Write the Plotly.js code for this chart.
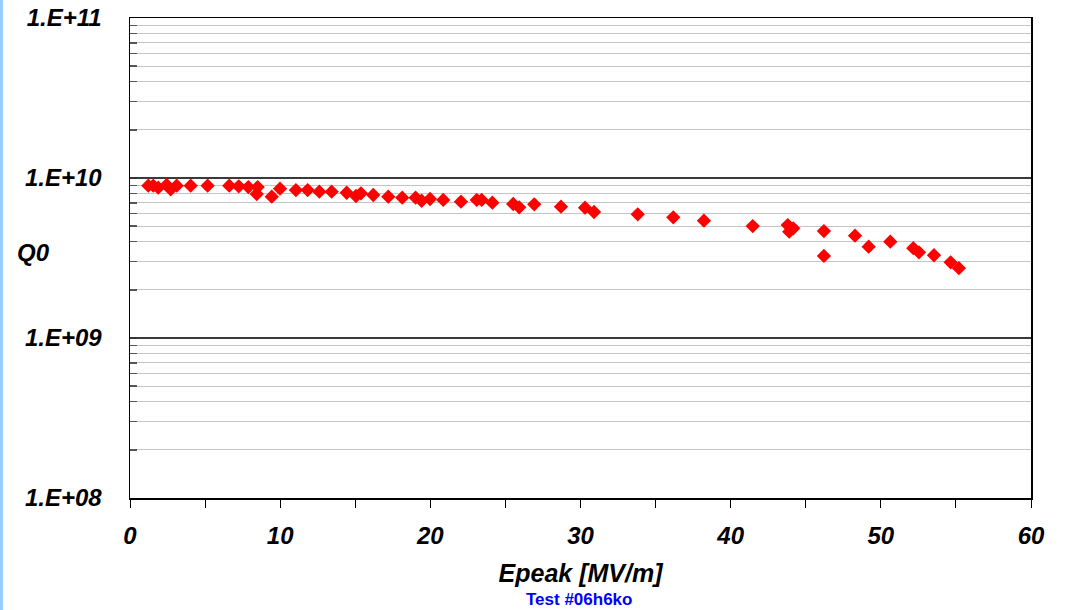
<!DOCTYPE html>
<html>
<head>
<meta charset="utf-8">
<script src="https://cdn.plot.ly/plotly-3.0.1.min.js"></script>
<style>
html,body{margin:0;padding:0;background:#fff;overflow:hidden;}
#chart{width:1067px;height:610px;}
#bar{position:absolute;left:0;top:0;width:3px;height:610px;background:#99ccff;}
</style>
</head>
<body>
<div id="chart"></div>
<div id="bar"></div>
<script>
// Epeak [MV/m]
const epeak = [1.22,1.55,1.88,2.44,2.71,3.11,4.04,5.17,6.61,7.24,7.88,8.50,8.44,9.44,9.99,
  11.05,11.83,12.61,13.43,14.43,15.05,15.38,16.20,17.20,18.13,19.02,19.42,19.98,20.86,
  22.04,23.09,23.42,24.13,25.52,25.92,26.92,28.70,30.30,30.90,33.81,36.18,38.22,41.47,
  43.80,44.17,43.90,46.21,46.21,48.28,49.19,50.63,52.16,52.54,53.54,54.65,55.20];
// Q0
const q0 = [8.95e9,8.95e9,8.70e9,9.04e9,8.50e9,8.95e9,8.95e9,8.95e9,8.95e9,8.87e9,8.78e9,8.78e9,7.94e9,7.64e9,8.57e9,
  8.41e9,8.41e9,8.21e9,8.21e9,8.09e9,7.72e9,8.02e9,7.83e9,7.64e9,7.53e9,7.53e9,7.21e9,7.39e9,7.29e9,
  7.11e9,7.29e9,7.29e9,7.01e9,6.88e9,6.56e9,6.85e9,6.62e9,6.52e9,6.13e9,5.93e9,5.68e9,5.41e9,5.01e9,
  5.08e9,4.85e9,4.62e9,4.66e9,3.26e9,4.36e9,3.72e9,4.00e9,3.64e9,3.43e9,3.29e9,2.97e9,2.73e9];
const yTickVals = [1e8,1e9,1e10,1e11];
const yTickText = ['1.E+08','1.E+09','1.E+10','1.E+11'];
const xTickVals = [0,10,20,30,40,50,60];

const fontFam = '"Liberation Sans", Arial, sans-serif';
const tickFont = {family: fontFam, size: 24, color: '#000', weight: 'bold', style: 'italic'};

const trace = {
  x: epeak, y: q0, type: 'scatter', mode: 'markers',
  marker: {symbol: 'diamond', size: 11, color: '#ff0000', line: {width: 0}},
  hoverinfo: 'x+y'
};

const layout = {
  width: 1067, height: 610,
  margin: {l: 130, r: 36, t: 18, b: 112},
  paper_bgcolor: '#fff', plot_bgcolor: '#fff',
  showlegend: false,
  xaxis: {
    range: [0, 60], tickmode: 'array', tickvals: xTickVals,
    ticks: 'outside', ticklen: 8, tickcolor: '#000', tickwidth: 1,
    minor: {dtick: 5, ticks: 'outside', ticklen: 8, tickcolor: '#000', showgrid: false},
    showgrid: false, zeroline: false,
    showline: true, linecolor: '#000', linewidth: 1.5, mirror: true,
    tickfont: tickFont, ticklabelstandoff: 8,
    title: {text: 'Epeak [MV/m]', font: {family: fontFam, size: 25, color: '#000', weight: 'bold', style: 'italic'}, standoff: 16}
  },
  yaxis: {
    type: 'log', range: [8, 11], tickmode: 'array', tickvals: yTickVals, ticktext: yTickText,
    ticks: 'inside', ticklen: 7, tickcolor: '#333', tickwidth: 1.5,
    showgrid: true, gridcolor: '#3a3a3a', gridwidth: 1.5,
    minor: {dtick: 'D1', ticks: 'inside', ticklen: 7, tickcolor: '#555', tickwidth: 1.5, showgrid: true, gridcolor: '#c4c4c4', gridwidth: 1.2},
    zeroline: false,
    showline: true, linecolor: '#000', linewidth: 1.5, mirror: true,
    tickfont: tickFont, ticklabelstandoff: 22
  },
  annotations: [
    {text: 'Q0', xref: 'paper', yref: 'paper', x: -0.128, y: (498 - 252) / 480, xanchor: 'left', yanchor: 'middle',
     showarrow: false, font: {family: fontFam, size: 24, color: '#000', weight: 'bold', style: 'italic'}},
    {text: 'Test #06h6ko', xref: 'paper', yref: 'paper', x: (579 - 130) / 901, y: -(588 - 498) / 480, xanchor: 'center', yanchor: 'top',
     showarrow: false, font: {family: fontFam, size: 17, color: '#0000ff', weight: 'bold'}}
  ]
};

Plotly.newPlot('chart', [trace], layout, {displayModeBar: false, staticPlot: true});
</script>
</body>
</html>
